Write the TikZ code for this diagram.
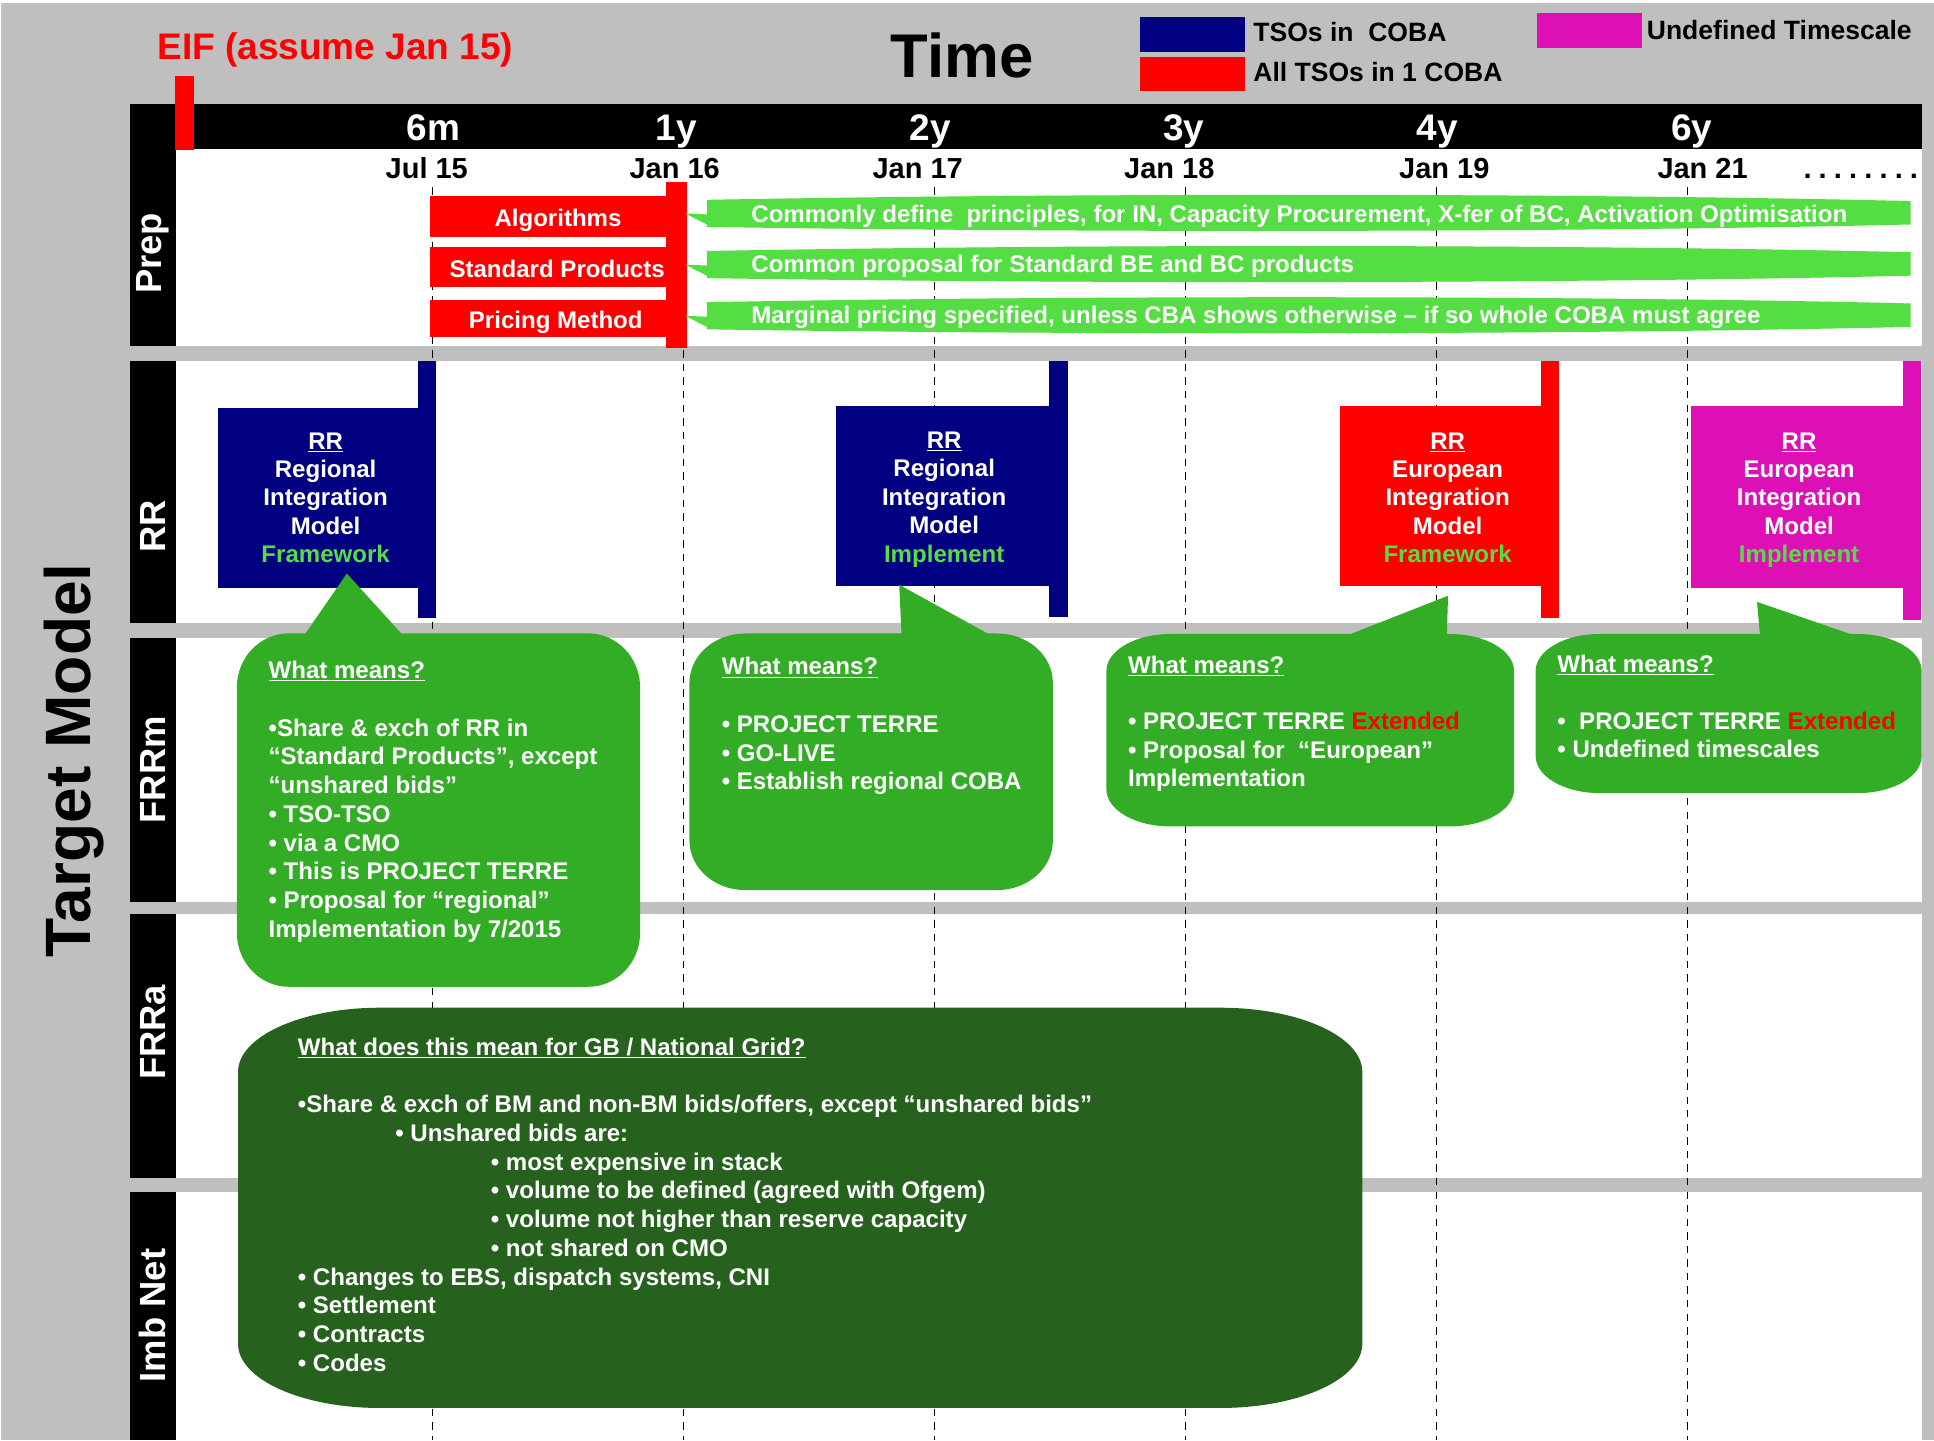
\documentclass[tikz,border=0pt]{standalone}
\usepackage{fontspec}
\setmainfont{Liberation Sans}
\definecolor{bggray}{RGB}{191,191,191}
\definecolor{navyb}{RGB}{0,0,128}
\definecolor{magb}{RGB}{220,16,180}
\definecolor{lgreen}{RGB}{85,221,68}
\definecolor{cgreen}{RGB}{51,173,38}
\definecolor{dgreen}{RGB}{38,98,30}
\definecolor{redb}{RGB}{255,0,0}
\newcommand\erectfill[7]{% color,x1,y1,x2,y2,rx,ry
 \fill[#1] (#2+#6,#3) -- (#4-#6,#3) .. controls (#4-0.448*#6,#3) and (#4,#3+0.448*#7) .. (#4,#3+#7) -- (#4,#5-#7) .. controls (#4,#5-0.448*#7) and (#4-0.448*#6,#5) .. (#4-#6,#5) -- (#2+#6,#5) .. controls (#2+0.448*#6,#5) and (#2,#5-0.448*#7) .. (#2,#5-#7) -- (#2,#3+#7) .. controls (#2,#3+0.448*#7) and (#2+0.448*#6,#3) .. (#2+#6,#3) -- cycle;}
\newcommand\bannerfill[1]{%
 \fill[lgreen] (573,#1-11) .. controls (900,#1-17) and (1300,#1-16) .. (1549,#1-10) -- (1549,#1+9) .. controls (1300,#1+15) and (900,#1+16) .. (573,#1+11) -- (573,#1+9) -- (555.4,#1) -- (573,#1+0.8) -- cycle;}
\newcommand\dotgap{\hspace{5.8pt}}
\tikzset{
 lanelbl/.style={text=white, font=\fontsize{29.5}{32}\selectfont\bfseries, rotate=90, inner sep=0},
 axlbl/.style={text=white, font=\fontsize{30}{34}\selectfont\bfseries, anchor=base, inner sep=0},
 datelbl/.style={text=black, font=\fontsize{23.5}{28}\selectfont\bfseries, anchor=base, inner sep=0},
 legtxt/.style={text=black, font=\fontsize{21.5}{25}\selectfont\bfseries, anchor=base west, inner sep=0},
 boxtxt/.style={text=white, font=\fontsize{19.5}{23.3}\selectfont\bfseries, inner sep=0},
 flagtxt/.style={text=white, font=\fontsize{19.5}{23}\selectfont\bfseries, inner sep=0, anchor=north, align=center},
 cotxt/.style={text=white, font=\fontsize{19.5}{23.3}\selectfont\bfseries, inner sep=0, anchor=north west, align=left},
 timeline/.style={black, line width=1.1pt, dash pattern=on 6pt off 5pt}
}
\begin{document}
\begin{tikzpicture}[x=1pt,y=-1pt]
\useasboundingbox (0,0) rectangle (1568,1167.5);
\fill[white] (0,0) rectangle (1568,1167.5);
\fill[bggray] (1,2.5) rectangle (1568,1167.5);
% header bar
\fill[black] (105,84) rectangle (1558,121);
% lanes
\fill[white] (143,121) rectangle (1558,280.5);
\fill[white] (143,292.8) rectangle (1558,505);
\fill[white] (143,517.6) rectangle (1558,731);
\fill[white] (143,741.3) rectangle (1558,955.3);
\fill[white] (143,966.7) rectangle (1558,1167.5);
% lane label bars
\fill[black] (105,121) rectangle (143,280.5);
\fill[black] (105,292.8) rectangle (143,505);
\fill[black] (105,517.6) rectangle (143,731);
\fill[black] (105,741.3) rectangle (143,955.3);
\fill[black] (105,966.7) rectangle (143,1167.5);
% dashed time lines
\foreach \xx in {350.5,554,757.7,961.2,1164.7,1368.2}
  \draw[timeline] (\xx,152) -- (\xx,1167.5);
% EIF marker
\fill[redb] (142,61.6) rectangle (157,122);
% titles
\node[text=redb, font=\fontsize{30}{34}\selectfont\bfseries, anchor=base west, inner sep=0] (eif) at (127.5,48) {EIF (assume Jan 15)};
\node[text=black, font=\fontsize{50}{56}\selectfont\bfseries, anchor=base, inner sep=0] (time) at (780,63) {Time};
\node[text=black, font=\fontsize{52}{58}\selectfont\bfseries, rotate=90, inner sep=0] (tm) at (60,616.5) {Target Model};
% legend
\fill[navyb] (924,13.5) rectangle (1009,42);
\fill[redb] (924,46) rectangle (1009,74);
\fill[magb] (1246,10.5) rectangle (1331,39);
\node[legtxt] (l1) at (1016,34) {TSOs in\ \ COBA};
\node[legtxt] (l2) at (1016,66) {All TSOs in 1 COBA};
\node[legtxt] (l3) at (1335,32.4) {Undefined Timescale};
% axis labels
\node[axlbl] (a1) at (351.5,114) {6m};
\node[axlbl] (a2) at (548.5,114) {1y};
\node[axlbl] (a3) at (754.4,114) {2y};
\node[axlbl] (a4) at (959.8,114) {3y};
\node[axlbl] (a5) at (1165.4,114) {4y};
\node[axlbl] (a6) at (1371.5,114) {6y};
\node[datelbl] (d1) at (346,145) {Jul 15};
\node[datelbl] (d2) at (547,145) {Jan 16};
\node[datelbl] (d3) at (744,145) {Jan 17};
\node[datelbl] (d4) at (948,145) {Jan 18};
\node[datelbl] (d5) at (1171,145) {Jan 19};
\node[datelbl] (d6) at (1380.4,145) {Jan 21};
\node[datelbl, anchor=base west] (d7) at (1462,145) {.\dotgap.\dotgap.\dotgap.\dotgap.\dotgap.\dotgap.\dotgap.};
% lane labels
\node[lanelbl] (lp) at (124,205.5) {Prep};
\node[lanelbl] (lr) at (124,426.7) {RR};
\node[lanelbl] (lm) at (124,624) {FRRm};
\node[lanelbl] (la) at (124,837) {FRRa};
\node[lanelbl] (li) at (124,1066.5) {Imb Net};
% prep row
\fill[redb] (349,159) rectangle (540,192);
\fill[redb] (349,200) rectangle (540,233);
\fill[redb] (349,243) rectangle (540,273);
\fill[redb] (540,147.5) rectangle (557,281.9);
\node[boxtxt, anchor=base] (p1) at (452.4,183.5) {Algorithms};
\node[boxtxt, anchor=base] (p2) at (451.7,225) {Standard Products};
\node[boxtxt, anchor=base] (p3) at (450.6,266) {Pricing Method};
\bannerfill{173}
\bannerfill{214.5}
\bannerfill{256}
\node[boxtxt, anchor=base west] (b1) at (609,180) {Commonly define\ \ principles, for IN, Capacity Procurement, X-fer of BC, Activation Optimisation};
\node[boxtxt, anchor=base west] (b2) at (609,221) {Common proposal for Standard BE and BC products};
\node[boxtxt, anchor=base west] (b3) at (609,262) {Marginal pricing specified, unless CBA shows otherwise – if so whole COBA must agree};
% RR flags
\fill[navyb] (177,331) rectangle (339,476.5);
\fill[navyb] (338.5,292.7) rectangle (353.5,500.7);
\fill[navyb] (677.6,329) rectangle (851,475);
\fill[navyb] (850.5,292.3) rectangle (865.6,500.6);
\fill[redb] (1086,329) rectangle (1249.5,475);
\fill[redb] (1249,292.7) rectangle (1264,501.3);
\fill[magb] (1371,329) rectangle (1543,476.5);
\fill[magb] (1542.5,292.7) rectangle (1557.5,503);
\node[flagtxt] (f1) at (264,364-16.1) {\strut\underline{RR}\\Regional\\Integration\\Model\\\textcolor{lgreen}{Framework}};
\node[flagtxt] (f2) at (765.5,363.5-16.1) {\strut\underline{RR}\\Regional\\Integration\\Model\\\textcolor{lgreen}{Implement}};
\node[flagtxt] (f3) at (1173.7,364-16.1) {\strut\underline{RR}\\European\\Integration\\Model\\\textcolor{lgreen}{Framework}};
\node[flagtxt] (f4) at (1458.6,364-16.1) {\strut\underline{RR}\\European\\Integration\\Model\\\textcolor{lgreen}{Implement}};
% callouts
\erectfill{cgreen}{192}{513.5}{519}{800}{42}{44}
\fill[cgreen] (246,516) -- (281.2,465) -- (327.6,516) -- cycle;
\erectfill{cgreen}{559}{513.6}{853.6}{721.6}{45}{40}
\fill[cgreen] (729,474) -- (731,516) -- (805,516) -- cycle;
\erectfill{cgreen}{897}{514}{1227.5}{670}{52}{30}
\fill[cgreen] (1174,483) -- (1090,516) -- (1173,516) -- cycle;
\erectfill{cgreen}{1245}{514}{1558}{643}{52}{30}
\fill[cgreen] (1424.5,488) -- (1427,516) -- (1506,516) -- cycle;
\node[cotxt] (c1) at (217.6,550-16.31) {\strut\underline{What means?}\\[23.3pt]
•Share \& exch of RR in\\
“Standard Products”, except\\
“unshared bids”\\
• TSO-TSO\\
• via a CMO\\
• This is PROJECT TERRE\\
• Proposal for “regional”\\
Implementation by 7/2015};
\node[cotxt] (c2) at (585,547-16.31) {\strut\underline{What means?}\\[23.3pt]
• PROJECT TERRE\\
• GO-LIVE\\
• Establish regional COBA};
\node[cotxt, font=\fontsize{19.5}{23}\selectfont\bfseries] (c3) at (914.4,545.5-16.1) {\strut\underline{What means?}\\[23pt]
• PROJECT TERRE \textcolor{redb}{Extended}\\
• Proposal for\ \ “European”\\
Implementation};
\node[cotxt, font=\fontsize{19.5}{23}\selectfont\bfseries] (c4) at (1262.5,545-16.1) {\strut\underline{What means?}\\[23pt]
•\ \ PROJECT TERRE \textcolor{redb}{Extended}\\
• Undefined timescales};
% GB box
\erectfill{dgreen}{193}{817}{1104.5}{1141.5}{115}{52}
\node[cotxt] (gb) at (241.3,855.3-16.31) {\strut\underline{What does this mean for GB / National Grid?}\\[23.3pt]
•Share \& exch of BM and non-BM bids/offers, except “unshared bids”\\
\hspace*{79pt}• Unshared bids are:\\
\hspace*{156.5pt}• most expensive in stack\\
\hspace*{156.5pt}• volume to be defined (agreed with Ofgem)\\
\hspace*{156.5pt}• volume not higher than reserve capacity\\
\hspace*{156.5pt}• not shared on CMO\\
• Changes to EBS, dispatch systems, CNI\\
• Settlement\\
• Contracts\\
• Codes};
\end{tikzpicture}
\end{document}
